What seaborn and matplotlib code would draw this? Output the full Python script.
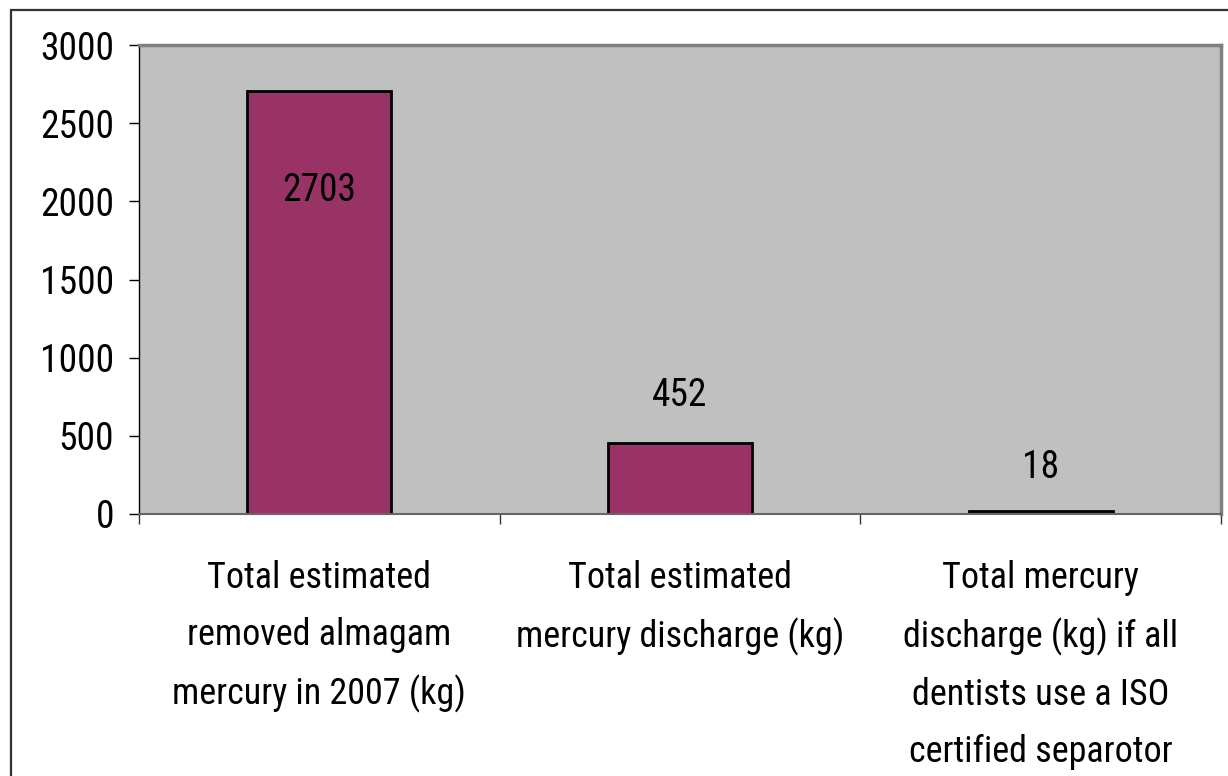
import matplotlib
matplotlib.use("Agg")
import matplotlib.pyplot as plt
import seaborn as sns
import pandas as pd
from matplotlib.patches import Rectangle
from matplotlib.ticker import FixedLocator, MultipleLocator

categories = [
    "Total estimated\nremoved almagam\nmercury in 2007 (kg)",
    "Total estimated\nmercury discharge (kg)",
    "Total mercury\ndischarge (kg) if all\ndentists use a ISO\ncertified separotor",
]
values = [2703, 452, 18]
value_labels = ["2703", "452", "18"]

sns.set_theme(style="white")
plt.rcParams["font.family"] = ["Roboto Condensed", "Liberation Sans", "DejaVu Sans"]
plt.rcParams["text.color"] = "black"
plt.rcParams["xtick.labelcolor"] = "black"
plt.rcParams["ytick.labelcolor"] = "black"

df = pd.DataFrame({"category": categories, "value": values})

fig = plt.figure(figsize=(12.28, 7.76), dpi=100)
fig.patch.set_facecolor("white")
# outer chart frame
fig.add_artist(Rectangle((11 / 1228, -0.05), 1.1, (776 - 10) / 776 + 0.05,
                         transform=fig.transFigure, fill=False,
                         edgecolor="#333333", linewidth=1.6))

ax = fig.add_axes([139 / 1228, (776 - 514) / 776, 1082 / 1228, 469 / 776])
ax.set_facecolor("#C0C0C0")

sns.barplot(data=df, x="category", y="value", ax=ax, color="#993366",
            saturation=1, width=0.4, edgecolor="black", linewidth=2)

ax.set_xlim(-0.5, 2.5)
ax.set_ylim(0, 3000)
ax.yaxis.set_major_locator(MultipleLocator(500))
ax.set_xlabel("")
ax.set_ylabel("")

ax.tick_params(axis="y", direction="out", length=7, width=1, color="black",
               labelsize=27, pad=11, left=True)
ax.tick_params(axis="x", which="major", length=0, labelsize=26, pad=33)
ax.xaxis.set_minor_locator(FixedLocator([-0.5, 0.5, 1.5, 2.5]))
ax.tick_params(axis="x", which="minor", direction="out", length=7, width=1,
               color="#333333", bottom=True)
for lbl in ax.get_xticklabels():
    lbl.set_linespacing(1.74)
    lbl.set_ha("center")

for side in ["top", "right"]:
    ax.spines[side].set_color("#808080")
    ax.spines[side].set_linewidth(2.5)
ax.spines["left"].set_color("black")
ax.spines["left"].set_linewidth(1)
ax.spines["bottom"].set_color("#666666")
ax.spines["bottom"].set_linewidth(1.5)

offsets = [-99, 48, 44]
for i, (v, t) in enumerate(zip(values, value_labels)):
    ax.annotate(t, (i, v), xytext=(0, offsets[i]), textcoords="offset pixels",
                ha="center", va="center", fontsize=27, color="black")

fig.savefig("out.png", dpi=100)
